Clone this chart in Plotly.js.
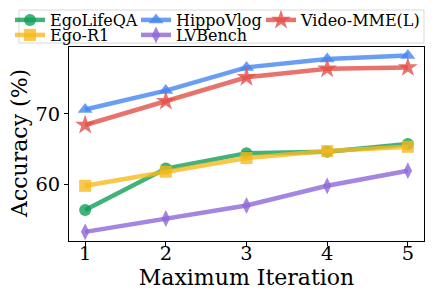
<!DOCTYPE html>
<html><head><meta charset="utf-8">
<script src="https://cdn.plot.ly/plotly-3.0.1.min.js"></script>
<style>html,body{margin:0;padding:0;background:#fff}#c{width:435px;height:291px}</style>
</head><body><div id="c"></div>
<script>
const iterations = [1, 2, 3, 4, 5];
const egoLifeQA = [56.3, 62.2, 64.4, 64.6, 65.7];
const egoR1 = [59.75, 61.75, 63.7, 64.7, 65.3];
const hippoVlog = [70.6, 73.3, 76.6, 77.8, 78.3];
const lvBench = [53.2, 55.1, 56.95, 59.75, 61.9];
const videoMME = [68.4, 71.8, 75.2, 76.4, 76.6];
const seriesNames = ["EgoLifeQA", "Ego-R1", "HippoVlog", "LVBench", "Video-MME(L)"];
const yTicks = [60, 70];
const xTitle = "Maximum Iteration";
const yTitle = "Accuracy (%)";

const font = "DejaVu Serif, serif";
function rgba(c, a) { return "rgba(" + c.join(",") + "," + a + ")"; }
function tr(name, y, c, symbol, size, leg) {
  return {x: iterations, y: y, name: name, mode: "lines+markers", legend: leg,
    line: {color: rgba(c, 0.8), width: 4.5},
    marker: {color: rgba(c, 0.8), symbol: symbol, size: size, line: {width: 0}}};
}
const data = [
  tr(seriesNames[0], egoLifeQA, [16,159,89], "circle", 12, "legend"),
  tr(seriesNames[1], egoR1, [248,185,29], "square", 12, "legend2"),
  tr(seriesNames[2], hippoVlog, [69,134,243], "triangle-up", 13, "legend3"),
  tr(seriesNames[3], lvBench, [142,103,216], "diamond-tall", 12, "legend4"),
  tr(seriesNames[4], videoMME, [226,79,71], "star", 15, "legend5"),
];
function leg(px, py) {
  return {xref: "container", yref: "container", x: px / 435, y: 1 - py / 291,
    xanchor: "left", yanchor: "top", borderwidth: 0, bgcolor: "rgba(0,0,0,0)",
    font: {family: font, size: 16}, itemwidth: 30};
}
const colX = [10, 136, 261];
const rowY = [3, 18];
const layout = {
  width: 435, height: 291,
  margin: {l: 69, r: 11, t: 47, b: 50, autoexpand: false},
  paper_bgcolor: "#fff", plot_bgcolor: "#fff",
  font: {family: font, color: "#000", size: 20},
  showlegend: true,
  legend: leg(colX[0], rowY[0]),
  legend2: leg(colX[0], rowY[1]),
  legend3: leg(colX[1], rowY[0]),
  legend4: leg(colX[1], rowY[1]),
  legend5: leg(colX[2], rowY[0]),
  shapes: [{type: "rect", xref: "paper", yref: "paper", x0: (19 - 69) / 355, x1: 1.0,
    y0: (241 - 43) / 194, y1: (241 - 10) / 194, line: {color: "#d9d9d9", width: 1},
    fillcolor: "rgba(255,255,255,0)", layer: "above"}],
  annotations: [{text: yTitle, xref: "paper", yref: "paper", x: (19 - 69) / 355, y: 0.5,
    xanchor: "center", yanchor: "middle", textangle: -90, showarrow: false,
    font: {family: font, size: 22, color: "#000"}}],
  xaxis: {range: [0.8, 5.2], tickvals: iterations, ticks: "outside", ticklen: 4,
    tickcolor: "#000", showline: true, mirror: true, linecolor: "#000", linewidth: 1,
    showgrid: false, zeroline: false, tickfont: {size: 19.4}, ticklabelstandoff: -9,
    title: {text: xTitle, font: {size: 22}, standoff: 0}},
  yaxis: {range: [51.9, 79.5], tickvals: yTicks, ticks: "outside", ticklen: 4,
    tickcolor: "#000", showline: true, mirror: true, linecolor: "#000", linewidth: 1,
    showgrid: false, zeroline: false, tickfont: {size: 19.4}}
};
Plotly.newPlot("c", data, layout, {staticPlot: true, displayModeBar: false});
</script></body></html>
